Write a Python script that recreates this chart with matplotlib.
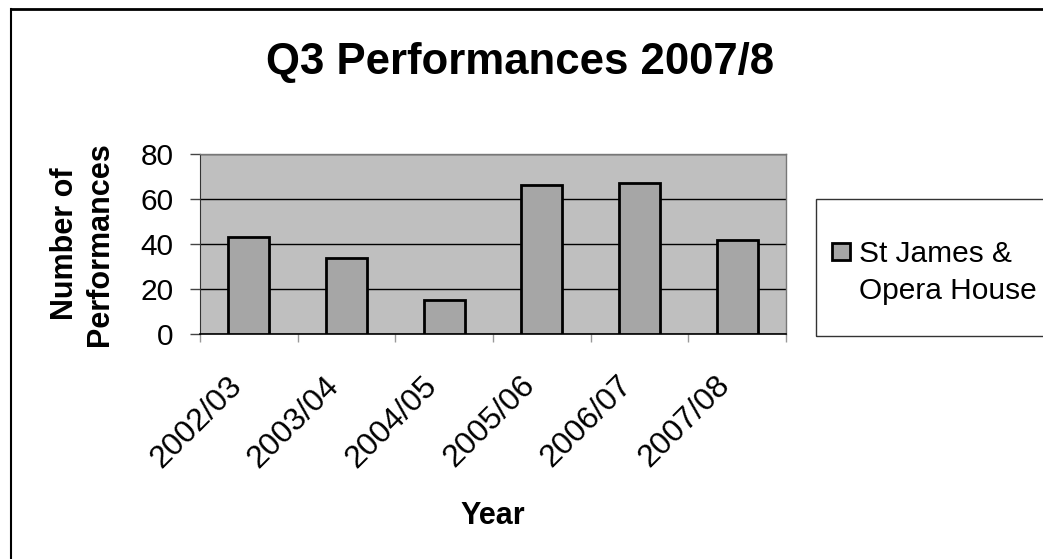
import matplotlib
matplotlib.use("Agg")
import matplotlib.pyplot as plt
from matplotlib.patches import Rectangle
from matplotlib.lines import Line2D
from matplotlib.legend_handler import HandlerPatch
from matplotlib.transforms import ScaledTranslation

plt.rcParams['font.family'] = ['Liberation Sans', 'DejaVu Sans']

years = ["2002/03", "2003/04", "2004/05", "2005/06", "2006/07", "2007/08"]
performances = [43, 34, 15, 66, 67, 42]
series_name = "St James &\nOpera House"
y_ticks = [0, 20, 40, 60, 80]

W, H = 1043, 559
fig = plt.figure(figsize=(W / 100, H / 100), dpi=100)
ax = fig.add_axes([200 / W, 1 - 334 / H, 586 / W, 180 / H])

ax.set_facecolor("#bfbfbf")
x = list(range(len(years)))
bars = ax.bar(x, performances, width=0.42, color="#a6a6a6", edgecolor="black",
              linewidth=2, zorder=3, label=series_name)

ax.set_xlim(-0.5, len(years) - 0.5)
ax.set_ylim(0, 80)
ax.set_yticks(y_ticks)
ax.yaxis.grid(True, color="black", linewidth=1, zorder=1)
ax.set_axisbelow(True)

ax.set_xticks(x)
ax.set_xticklabels(years, rotation=45, ha="right", va="baseline", rotation_mode="anchor")
ax.set_xticks([i - 0.5 for i in range(len(years) + 1)], minor=True)
ax.tick_params(axis="x", which="major", length=0, pad=38, labelsize=23)
ax.tick_params(axis="x", which="minor", length=6, color="#999999", width=1)
ax.tick_params(axis="y", length=7, width=1, color="#444444", pad=12, labelsize=21.5)
shift = ScaledTranslation(-6 / 100, 0, fig.dpi_scale_trans)
for lab in ax.get_xticklabels():
    lab.set_transform(lab.get_transform() + shift)

for side in ["top", "right"]:
    ax.spines[side].set_color("#777777")
    ax.spines[side].set_linestyle((0, (2, 1)))
    ax.spines[side].set_linewidth(1)
ax.spines["left"].set_color("#333333")
ax.spines["bottom"].set_color("black")
ax.spines["bottom"].set_linewidth(1.2)

ax.set_xlabel("Year", fontsize=22, fontweight="bold", labelpad=20)
ax.set_ylabel("Number of\nPerformances", fontsize=22, fontweight="bold",
              labelpad=18, linespacing=1.25)

fig.text(520 / W, 1 - 62 / H, "Q3 Performances 2007/8",
         fontsize=31.5, fontweight="bold", ha="center", va="center")


def top_patch(legend, orig_handle, xdescent, ydescent, width, height, fontsize):
    return Rectangle((-xdescent, -ydescent + 0.7 * fontsize), width, height)


leg = fig.legend(handles=[bars.patches[0]], labels=[series_name], loc="upper left",
                 bbox_to_anchor=(832 / W, 1 - 240 / H), frameon=False,
                 fontsize=21.5, handlelength=0.6, handleheight=0.5,
                 handletextpad=0.3, borderpad=0, borderaxespad=0, labelspacing=0,
                 handler_map={Rectangle: HandlerPatch(patch_func=top_patch)})
for t in leg.get_texts():
    t.set_linespacing(1.4)

fig.add_artist(Rectangle((816 / W, 1 - 336 / H), (W - 816 + 10) / W, 137 / H,
                         transform=fig.transFigure, facecolor="none",
                         edgecolor="#333333", linewidth=1, clip_on=False))

fig.add_artist(Line2D([11 / W, 1], [1 - 9 / H, 1 - 9 / H], transform=fig.transFigure,
                      color="black", linewidth=2))
fig.add_artist(Line2D([11 / W, 11 / W], [0, 1 - 9 / H], transform=fig.transFigure,
                      color="black", linewidth=1.5))

fig.savefig("out.png", dpi=100)
